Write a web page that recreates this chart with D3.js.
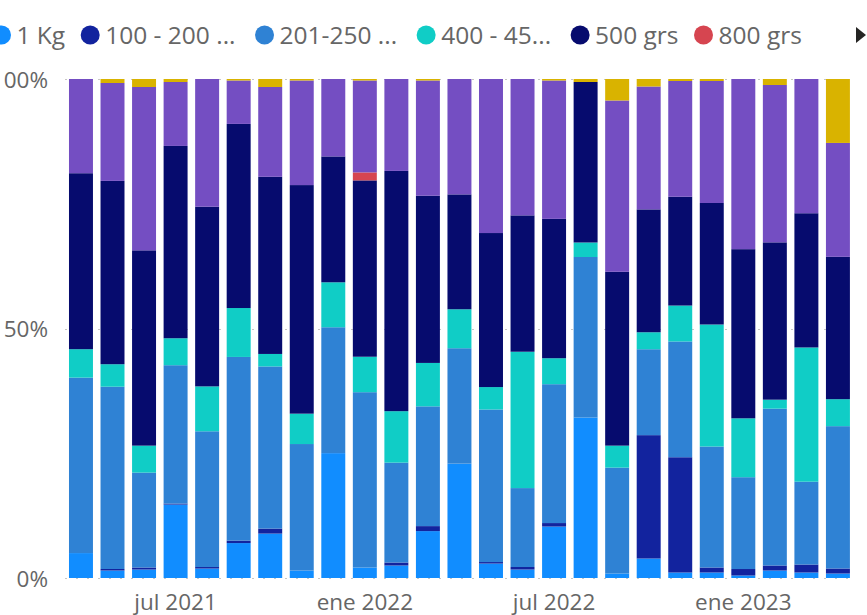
<!DOCTYPE html>
<html>
<head>
<meta charset="utf-8">
<script src="https://cdn.jsdelivr.net/npm/d3@7"></script>
<style>
  body { margin: 0; background: #fff; overflow: hidden; }
  text { font-family: "Open Sans", "Noto Sans", sans-serif; fill: #666; }
</style>
</head>
<body>
<div id="chart"></div>
<script>
// months on the x axis (abr 2021 .. abr 2023)
const months = ["abr 2021", "may 2021", "jun 2021", "jul 2021", "ago 2021", "sep 2021", "oct 2021", "nov 2021", "dic 2021",
    "ene 2022", "feb 2022", "mar 2022", "abr 2022", "may 2022", "jun 2022", "jul 2022", "ago 2022", "sep 2022", "oct 2022",
    "nov 2022", "dic 2022", "ene 2023", "feb 2023", "mar 2023", "abr 2023"];
const tickMonths = ["jul 2021", "ene 2022", "jul 2022", "ene 2023"];

// series, bottom to top (last two are off-screen in the legend)
const seriesNames = ["1 Kg", "100 - 200 ...", "201-250 ...", "400 - 45...", "500 grs", "800 grs", "Otros", "Sin dato"];
const legendNames = ["1 Kg", "100 - 200 ...", "201-250 ...", "400 - 45...", "500 grs", "800 grs"];
const seriesColors = ["#118DFF", "#12239E", "#2F82D4", "#10CDC6", "#060B6E", "#D64550", "#744EC2", "#D9B300"];

// share (%) of each series per month
const kg1 = [5.0, 1.5, 1.7, 14.7, 1.9, 7.0, 8.9, 1.5, 25.0, 2.1, 2.5, 9.4, 22.9, 2.9, 1.7, 10.3, 32.1, 0.9, 3.9, 1.1, 1.1, 0.5, 1.5, 1.1, 0.9];
const g100 = [0, 0.3, 0.4, 0.2, 0.3, 0.5, 1.0, 0, 0, 0, 0.6, 1.0, 0, 0.3, 0.5, 0.7, 0, 0, 24.7, 23.1, 1.0, 1.3, 1.0, 1.6, 1.0];
const g201 = [35.2, 36.5, 19.0, 27.7, 27.2, 36.8, 32.5, 25.4, 25.2, 35.1, 20.0, 24.0, 23.1, 30.6, 15.8, 27.8, 32.1, 21.2, 17.2, 23.2, 24.2, 18.4, 31.4, 16.6, 28.5];
const g400 = [5.7, 4.5, 5.4, 5.4, 9.0, 9.8, 2.5, 6.1, 9.0, 7.1, 10.3, 8.7, 7.8, 4.5, 27.3, 5.2, 2.9, 4.4, 3.4, 7.2, 24.4, 11.8, 1.8, 26.9, 5.4];
const g500 = [35.3, 36.7, 39.1, 38.5, 36.0, 36.9, 35.5, 45.9, 25.2, 35.3, 48.1, 33.5, 23.0, 30.9, 27.3, 27.9, 32.1, 34.8, 24.6, 21.8, 24.3, 33.9, 31.5, 26.9, 28.5];
const g800 = [0, 0, 0, 0, 0, 0, 0, 0, 0, 1.6, 0, 0, 0, 0, 0, 0, 0, 0, 0, 0, 0, 0, 0, 0, 0];
const otros = [18.9, 19.6, 32.7, 12.8, 25.6, 8.7, 18.0, 21.0, 15.5, 18.4, 18.4, 23.1, 23.1, 30.9, 27.3, 27.7, 0, 34.3, 24.6, 23.2, 24.4, 34.1, 31.5, 26.9, 22.8];
const sinDato = [0, 0.8, 1.6, 0.6, 0, 0.3, 1.6, 0.3, 0, 0.3, 0, 0.3, 0, 0, 0, 0.3, 0.6, 4.3, 1.5, 0.4, 0.4, 0, 1.2, 0, 12.8];

const seriesValues = [kg1, g100, g201, g400, g500, g800, otros, sinDato];

const width = 867;
const height = 615;

const rows = months.map((m, i) => {
    const row = { month: m };
    seriesNames.forEach((s, j) => { row[s] = seriesValues[j][i]; });
    return row;
});

const svg = d3.select("#chart")
    .append("svg")
    .attr("width", width)
    .attr("height", height);

const x = d3.scaleBand()
    .domain(months)
    .range([65.2, 853.7])
    .paddingInner(0.24)
    .paddingOuter(0.12);

const y = d3.scaleLinear()
    .domain([0, 1])
    .range([578, 79]);

const color = d3.scaleOrdinal().domain(seriesNames).range(seriesColors);

const stacked = d3.stack()
    .keys(seriesNames)
    .offset(d3.stackOffsetExpand)(rows);

// dotted gridlines
svg.append("g")
    .selectAll("line")
    .data([0, 0.5, 1])
    .enter().append("line")
    .attr("x1", 65)
    .attr("x2", 854)
    .attr("y1", d => Math.round(y(d)) + 0.5)
    .attr("y2", d => Math.round(y(d)) + 0.5)
    .attr("stroke", "#c8c6c4")
    .attr("stroke-dasharray", "2,9");

// bars
svg.append("g")
    .selectAll("g")
    .data(stacked)
    .enter().append("g")
    .attr("fill", d => color(d.key))
    .selectAll("rect")
    .data(d => d)
    .enter().append("rect")
    .attr("x", d => x(d.data.month))
    .attr("y", d => y(d[1]))
    .attr("width", x.bandwidth())
    .attr("height", d => Math.max(0, y(d[0]) - y(d[1])));

// y axis
const yAxis = svg.append("g")
    .attr("transform", "translate(48,0)")
    .call(d3.axisLeft(y).tickValues([0, 0.5, 1]).tickFormat(d3.format(".0%")).tickSize(0).tickPadding(0));
yAxis.select(".domain").remove();
yAxis.selectAll("text")
    .style("font-size", "22.5px")
    .attr("dy", "0.36em")
    .style("fill", "#666");

// x axis
const xAxis = svg.append("g")
    .attr("transform", "translate(0,578)")
    .call(d3.axisBottom(x).tickValues(tickMonths).tickSize(0));
xAxis.select(".domain").remove();
xAxis.selectAll("text")
    .style("font-size", "22.5px")
    .attr("y", 32)
    .attr("dy", 0)
    .style("fill", "#666");

// legend
const legend = svg.append("g").attr("transform", "translate(0,35)");
let cx = 1.5;
legendNames.forEach((name, i) => {
    const item = legend.append("g");
    item.append("circle")
        .attr("cx", cx)
        .attr("cy", 0)
        .attr("r", 9.5)
        .attr("fill", seriesColors[i]);
    const t = item.append("text")
        .attr("x", cx + 15)
        .attr("y", 8.5)
        .style("font-size", "24.5px")
        .text(name);
    // truncated names are a bit wider in the original font
    const extra = name.endsWith("...") ? 4 : 0;
    cx = cx + 15 + t.node().getComputedTextLength() + 25 + extra;
});

legend.append("path")
    .attr("d", "M856,-8L866,0L856,8Z")
    .attr("fill", "#252423");
</script>
</body>
</html>
